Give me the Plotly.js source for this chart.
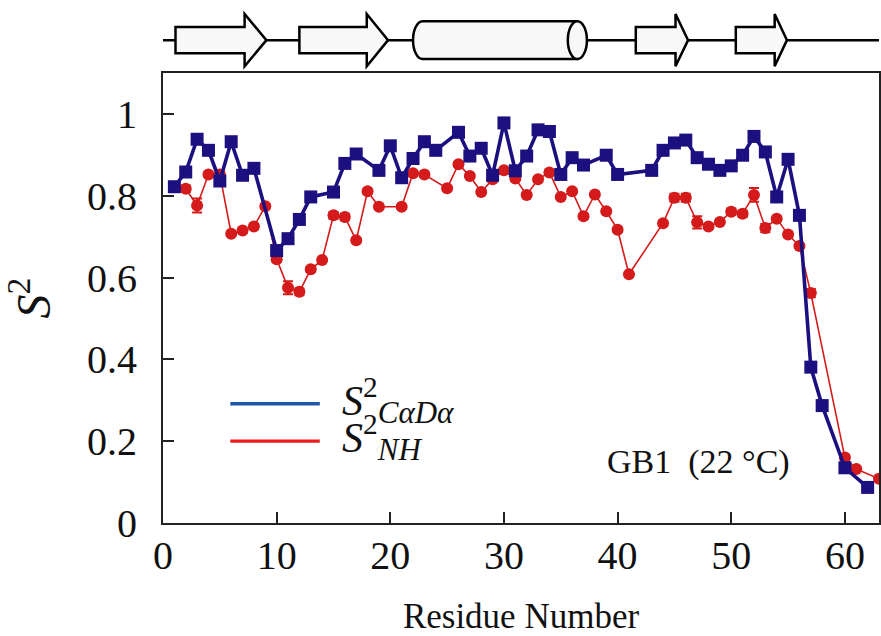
<!DOCTYPE html>
<html>
<head>
<meta charset="utf-8">
<script src="https://cdn.plot.ly/plotly-3.0.1.min.js"></script>
<style>html,body{margin:0;padding:0;background:#fff;}#chart{width:881px;height:636px;}</style>
</head>
<body>
<div id="chart"></div>
<script>
// ---- data ----
const residuesCaDa = [1,2,3,4,5,6,7,8,10,11,12,13,15,16,17,19,20,21,22,23,24,26,27,28,29,30,31,32,33,34,35,36,37,39,40,43,44,45,46,47,48,49,50,51,52,53,54,55,56,57,58,60,62];
const s2CaDa = [0.822,0.858,0.938,0.911,0.836,0.932,0.850,0.867,0.666,0.695,0.742,0.797,0.809,0.879,0.902,0.862,0.922,0.844,0.891,0.932,0.911,0.955,0.897,0.916,0.850,0.978,0.861,0.897,0.961,0.957,0.852,0.893,0.875,0.899,0.852,0.862,0.911,0.929,0.936,0.893,0.877,0.862,0.873,0.899,0.945,0.907,0.797,0.889,0.752,0.381,0.287,0.135,0.087];

const residuesNH = [2,3,4,5,6,7,8,9,10,11,12,13,14,15,16,17,18,19,21,22,23,25,26,27,28,29,30,31,32,33,34,35,36,37,38,39,40,41,44,45,46,47,48,49,50,51,52,53,54,55,56,57,60,61,63];
const s2NH = [0.817,0.776,0.852,0.852,0.707,0.715,0.725,0.774,0.645,0.575,0.565,0.620,0.643,0.752,0.748,0.691,0.811,0.773,0.773,0.855,0.852,0.818,0.877,0.848,0.809,0.840,0.862,0.842,0.802,0.840,0.857,0.797,0.811,0.750,0.803,0.762,0.717,0.608,0.733,0.795,0.795,0.735,0.725,0.736,0.761,0.756,0.802,0.721,0.744,0.705,0.677,0.562,0.160,0.132,0.108];
const errNH = [0.008,0.017,0.005,0.005,0.005,0.005,0.005,0.005,0.006,0.016,0.008,0.005,0.005,0.008,0.008,0.005,0.005,0.005,0.005,0.005,0.005,0.005,0.005,0.005,0.005,0.005,0.005,0.005,0.005,0.005,0.005,0.005,0.005,0.005,0.005,0.005,0.005,0.005,0.005,0.010,0.010,0.015,0.005,0.005,0.008,0.008,0.017,0.010,0.005,0.005,0.005,0.010,0.006,0.005,0.005];

// secondary structure of GB1 (residue spans)
const ssStart = [1.1, 12.0, 22.0, 41.6, 50.4];
const ssEnd   = [9.1, 19.8, 37.3, 46.2, 54.9];
const ssType  = ['strand','strand','helix','strand','strand'];

const xTicks = [0,10,20,30,40,50,60];
const yTicks = [0,0.2,0.4,0.6,0.8,1];
const yTickText = ['0','0.2','0.4','0.6','0.8','1'];

const legendLabels = [
  '<i>S</i><sup>2</sup><sub><span style="font-size:31px"><i>C\u03b1D\u03b1</i></span></sub>',
  '<i>S</i><sup>2</sup><sub><span style="font-size:31px"><i>NH</i></span></sub>'
];
const sampleLabel = 'GB1\u00a0\u00a0(22 \u00b0C)';

// ---- styles ----
const FONT = '"Liberation Serif", "Times New Roman", serif';
const BLUE = '#1c1080';
const RED = '#d41a1a';
const LEG_BLUE = '#2056a6';
const LEG_RED = '#ee1c1c';
const X_RANGE = [0, 63];
const Y_RANGE = [0, 1.1];

// ---- secondary-structure shapes ----
const ssY = 1.073;      // paper y of the baseline
const bodyH = 0.029;    // arrow body half-height (paper)
const headH = 0.058;    // arrow head half-height (paper)
const cylH = 0.042;     // helix half-height (paper)
const cylRx = 0.84;     // ellipse x-radius (residues)
const headFrac = 0.24;
const K = 0.5523;
const ssFill = '#f8f8f8';
const ssLine = {color:'#000', width:2.5};

const shapes = [];
shapes.push({type:'line', xref:'x', yref:'paper', x0:X_RANGE[0]-0.5, x1:X_RANGE[1], y0:ssY, y1:ssY, line:{color:'#000', width:2.5}, layer:'above'});

function f(v){return v.toFixed(4);}
ssType.forEach((t,i)=>{
  const x0 = ssStart[i], x1 = ssEnd[i];
  if (t === 'strand') {
    const xb = x1 - headFrac*(x1-x0);
    const p = `M${f(x0)},${f(ssY+bodyH)} L${f(xb)},${f(ssY+bodyH)} L${f(xb)},${f(ssY+headH)} L${f(x1)},${f(ssY)} L${f(xb)},${f(ssY-headH)} L${f(xb)},${f(ssY-bodyH)} L${f(x0)},${f(ssY-bodyH)} Z`;
    shapes.push({type:'path', xref:'x', yref:'paper', path:p, fillcolor:ssFill, line:ssLine, layer:'above'});
  } else {
    const cl = x0 + cylRx, cr = x1 - cylRx;
    const top = ssY + cylH, bot = ssY - cylH;
    const body = `M${f(cl)},${f(top)} L${f(cr)},${f(top)} L${f(cr)},${f(bot)} L${f(cl)},${f(bot)} ` +
      `C${f(cl-K*cylRx)},${f(bot)} ${f(cl-cylRx)},${f(ssY-K*cylH)} ${f(cl-cylRx)},${f(ssY)} ` +
      `C${f(cl-cylRx)},${f(ssY+K*cylH)} ${f(cl-K*cylRx)},${f(top)} ${f(cl)},${f(top)} Z`;
    shapes.push({type:'path', xref:'x', yref:'paper', path:body, fillcolor:ssFill, line:ssLine, layer:'above'});
    const ell = `M${f(cr)},${f(top)} ` +
      `C${f(cr+K*cylRx)},${f(top)} ${f(cr+cylRx)},${f(ssY+K*cylH)} ${f(cr+cylRx)},${f(ssY)} ` +
      `C${f(cr+cylRx)},${f(ssY-K*cylH)} ${f(cr+K*cylRx)},${f(bot)} ${f(cr)},${f(bot)} ` +
      `C${f(cr-K*cylRx)},${f(bot)} ${f(cr-cylRx)},${f(ssY-K*cylH)} ${f(cr-cylRx)},${f(ssY)} ` +
      `C${f(cr-cylRx)},${f(ssY+K*cylH)} ${f(cr-K*cylRx)},${f(top)} ${f(cr)},${f(top)} Z`;
    shapes.push({type:'path', xref:'x', yref:'paper', path:ell, fillcolor:ssFill, line:ssLine, layer:'above'});
  }
});

// legend (drawn as line samples + labels)
const legX0 = 0.094, legX1 = 0.219, legTextX = 0.247;
const legY = [0.265, 0.182];
const legColors = [LEG_BLUE, LEG_RED];
const legWidths = [3.5, 3.2];
legY.forEach((y,i)=>{
  shapes.push({type:'line', xref:'paper', yref:'paper', x0:legX0, x1:legX1, y0:y, y1:y, line:{color:legColors[i], width:legWidths[i]}});
});

const annotations = legendLabels.map((txt,i)=>({
  xref:'paper', yref:'paper', x:legTextX, y:legY[i]+0.008, xanchor:'left', yanchor:'middle',
  text:txt, showarrow:false, font:{family:FONT, size:42, color:'#111'}
}));
annotations.push({xref:'paper', yref:'paper', x:0.748, y:0.135, xanchor:'center', yanchor:'middle',
  text:sampleLabel, showarrow:false, font:{family:FONT, size:34, color:'#111'}});

const traces = [
  {x:residuesNH, y:s2NH, type:'scatter', mode:'lines+markers', name:'S2 NH',
   line:{color:RED, width:1.6}, marker:{symbol:'circle', size:12, color:RED},
   error_y:{type:'data', array:errNH, visible:true, color:RED, thickness:2, width:5}},
  {x:residuesCaDa, y:s2CaDa, type:'scatter', mode:'lines+markers', name:'S2 CaDa',
   line:{color:BLUE, width:3.6}, marker:{symbol:'square', size:13, color:BLUE}}
];

const axisCommon = {
  showline:true, linecolor:'#222', linewidth:2, mirror:true,
  ticks:'inside', tickcolor:'#222', tickwidth:2, ticklen:11,
  showgrid:false, zeroline:false,
  tickfont:{family:FONT, size:40, color:'#111'}
};

const layout = {
  width:881, height:636,
  margin:{l:163, r:2, t:73, b:113},
  paper_bgcolor:'#fff', plot_bgcolor:'#fff',
  showlegend:false,
  font:{family:FONT, color:'#111'},
  xaxis:Object.assign({}, axisCommon, {
    range:X_RANGE, tickmode:'array', tickvals:xTicks, ticklabelstandoff:-4,
    title:{text:'Residue Number', font:{family:FONT, size:35, color:'#111'}, standoff:44}
  }),
  yaxis:Object.assign({}, axisCommon, {
    range:Y_RANGE, tickmode:'array', tickvals:yTicks, ticktext:yTickText, ticklabelstandoff:16,
    title:{text:'<i>S</i><sup>2</sup>', font:{family:FONT, size:48, color:'#111'}, standoff:24}
  }),
  shapes:shapes,
  annotations:annotations
};

Plotly.newPlot('chart', traces, layout, {staticPlot:true, displayModeBar:false});
</script>
</body>
</html>
